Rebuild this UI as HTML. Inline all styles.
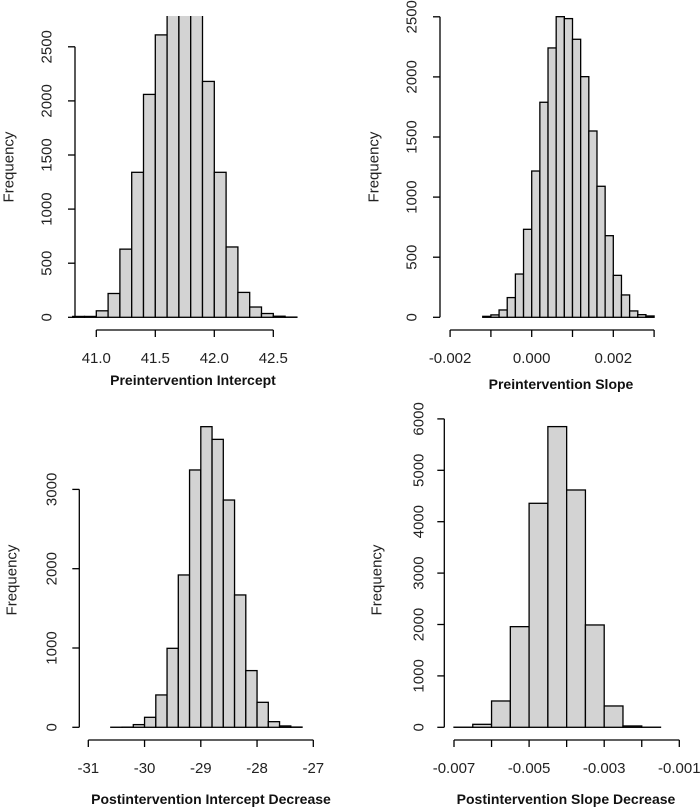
<!DOCTYPE html>
<html><head><meta charset="utf-8"><style>
html,body{margin:0;padding:0;background:#fff;}
svg{display:block;font-family:"Liberation Sans",Arial,sans-serif;}
</style></head><body>
<svg id="chart" width="700" height="808" viewBox="0 0 700 808">
<defs>
<clipPath id="clip1"><rect x="0" y="16" width="350" height="320"/></clipPath>
</defs>
</svg>
<script>
// Panel 1: Preintervention Intercept
const p1Bins = [40.8,40.9,41.0,41.1,41.2,41.3,41.4,41.5,41.6,41.7,41.8,41.9,42.0,42.1,42.2,42.3,42.4,42.5,42.6];
const p1Counts = [8,8,60,220,630,1340,2060,2610,2850,2850,2850,2180,1340,650,230,95,35,10,2];
const p1XTicks = [41.0,41.5,42.0,42.5];
const p1XLabels = ["41.0","41.5","42.0","42.5"];
const p1YTicks = [0,500,1000,1500,2000,2500];
// Panel 2: Preintervention Slope
const p2Bins = [-0.0012,-0.001,-0.0008,-0.0006,-0.0004,-0.0002,0,0.0002,0.0004,0.0006,0.0008,0.001,0.0012,0.0014,0.0016,0.0018,0.002,0.0022,0.0024,0.0026,0.0028];
const p2Counts = [8,20,61,164,360,732,1217,1789,2241,2501,2485,2313,2002,1550,1090,679,349,186,53,22,11];
const p2XTicks = [-0.002,-0.001,0,0.001,0.002,0.003];
const p2XLabels = ["-0.002","","0.000","","0.002",""];
const p2YTicks = [0,500,1000,1500,2000,2500];
// Panel 3: Postintervention Intercept Decrease
const p3Bins = [-30.6,-30.4,-30.2,-30.0,-29.8,-29.6,-29.4,-29.2,-29.0,-28.8,-28.6,-28.4,-28.2,-28.0,-27.8,-27.6,-27.4];
const p3Counts = [1,2,34,126,408,996,1921,3245,3791,3631,2866,1669,715,315,71,17,3];
const p3XTicks = [-31,-30,-29,-28,-27];
const p3XLabels = ["-31","-30","-29","-28","-27"];
const p3YTicks = [0,1000,2000,3000];
// Panel 4: Postintervention Slope Decrease
const p4Bins = [-0.007,-0.0065,-0.006,-0.0055,-0.005,-0.0045,-0.004,-0.0035,-0.003,-0.0025,-0.002];
const p4Counts = [2,58,512,1958,4358,5850,4617,1991,415,26,2];
const p4XTicks = [-0.007,-0.006,-0.005,-0.004,-0.003,-0.002,-0.001];
const p4XLabels = ["-0.007","","-0.005","","-0.003","","-0.001"];
const p4YTicks = [0,1000,2000,3000,4000,5000,6000];

const NS="http://www.w3.org/2000/svg";
const svg=document.getElementById('chart');
function mk(tag,attrs,parent){const e=document.createElementNS(NS,tag);for(const k in attrs)e.setAttribute(k,attrs[k]);(parent||svg).appendChild(e);return e;}

function panel(id,cfg,bins,counts,xt,xl,yt,title){
  const g=mk('g',{});
  
  
  const xs=v=>cfg.x0px+(v-cfg.x0v)*cfg.xscale;
  const ys=v=>cfg.y0px-v*cfg.yscale;
  const bw=cfg.bw;
  const bars=mk('g',cfg.clip?{'clip-path':'url(#'+cfg.clip+')'}:{},g);
  for(let i=0;i<bins.length;i++){
    const x1=xs(bins[i]),x2=xs(bins[i]+bw),y=ys(counts[i]);
    const r=mk('rect',{x:x1,y:y,width:x2-x1,height:cfg.y0px-y,fill:'#d3d3d3',stroke:'#000','stroke-width':1.3},bars);
    
    
  }
  const ya=mk('g',{},g);
  
  
  mk('line',{x1:cfg.yax,x2:cfg.yax,y1:ys(yt[0]),y2:ys(yt[yt.length-1]),stroke:'#000','stroke-width':1.3},ya);
  yt.forEach(v=>{
    mk('line',{x1:cfg.yax,x2:cfg.yax-7,y1:ys(v),y2:ys(v),stroke:'#000','stroke-width':1.3},ya);
    const t=mk('text',{x:cfg.ylabx,y:ys(v),'text-anchor':'middle','dominant-baseline':'central','font-size':15,fill:'#222',transform:'rotate(-90 '+cfg.ylabx+' '+ys(v)+')'},ya);
    t.textContent=String(v);
  });
  const ft=mk('text',{x:cfg.freqx,y:cfg.freqy,'text-anchor':'middle','dominant-baseline':'central','font-size':15,fill:'#222',transform:'rotate(-90 '+cfg.freqx+' '+cfg.freqy+')'},g);
  
  
  ft.textContent='Frequency';
  const xa=mk('g',{},g);
  
  
  mk('line',{x1:xs(xt[0]),x2:xs(xt[xt.length-1]),y1:cfg.xay,y2:cfg.xay,stroke:'#000','stroke-width':1.3},xa);
  xt.forEach((v,i)=>{
    mk('line',{x1:xs(v),x2:xs(v),y1:cfg.xay,y2:cfg.xay+7,stroke:'#000','stroke-width':1.3},xa);
    if(xl[i]){const t=mk('text',{x:xs(v),y:cfg.xay+33,'text-anchor':'middle','font-size':15,fill:'#222'},xa);t.textContent=xl[i];}
  });
  const tt=mk('text',{x:cfg.titlex,y:cfg.titley,'text-anchor':'middle','font-size':14,'font-weight':'bold',fill:'#111'},g);
  
  
  tt.textContent=title;
}

panel('preintervention-intercept',{x0v:41.0,x0px:96.3,xscale:118,bw:0.1,y0px:317.3,yscale:54.1/500,yax:75,ylabx:47,freqx:9,freqy:167,xay:330,titlex:193,titley:385,clip:'clip1'},p1Bins,p1Counts,p1XTicks,p1XLabels,p1YTicks,'Preintervention Intercept');
panel('preintervention-slope',{x0v:0,x0px:531.7,xscale:40800,bw:0.0002,y0px:317.3,yscale:60.1/500,yax:440,ylabx:412,freqx:374,freqy:167,xay:330,titlex:561,titley:389},p2Bins,p2Counts,p2XTicks,p2XLabels,p2YTicks,'Preintervention Slope');
panel('postintervention-intercept',{x0v:-31,x0px:88.3,xscale:56.25,bw:0.2,y0px:727.3,yscale:79.3/1000,yax:79.3,ylabx:52,freqx:12,freqy:580,xay:740,titlex:211,titley:804},p3Bins,p3Counts,p3XTicks,p3XLabels,p3YTicks,'Postintervention Intercept Decrease');
panel('postintervention-slope',{x0v:-0.007,x0px:454,xscale:37550,bw:0.0005,y0px:727.3,yscale:51.4/1000,yax:444.3,ylabx:419,freqx:377,freqy:580,xay:740,titlex:566,titley:804},p4Bins,p4Counts,p4XTicks,p4XLabels,p4YTicks,'Postintervention Slope Decrease');
</script>
</body></html>
